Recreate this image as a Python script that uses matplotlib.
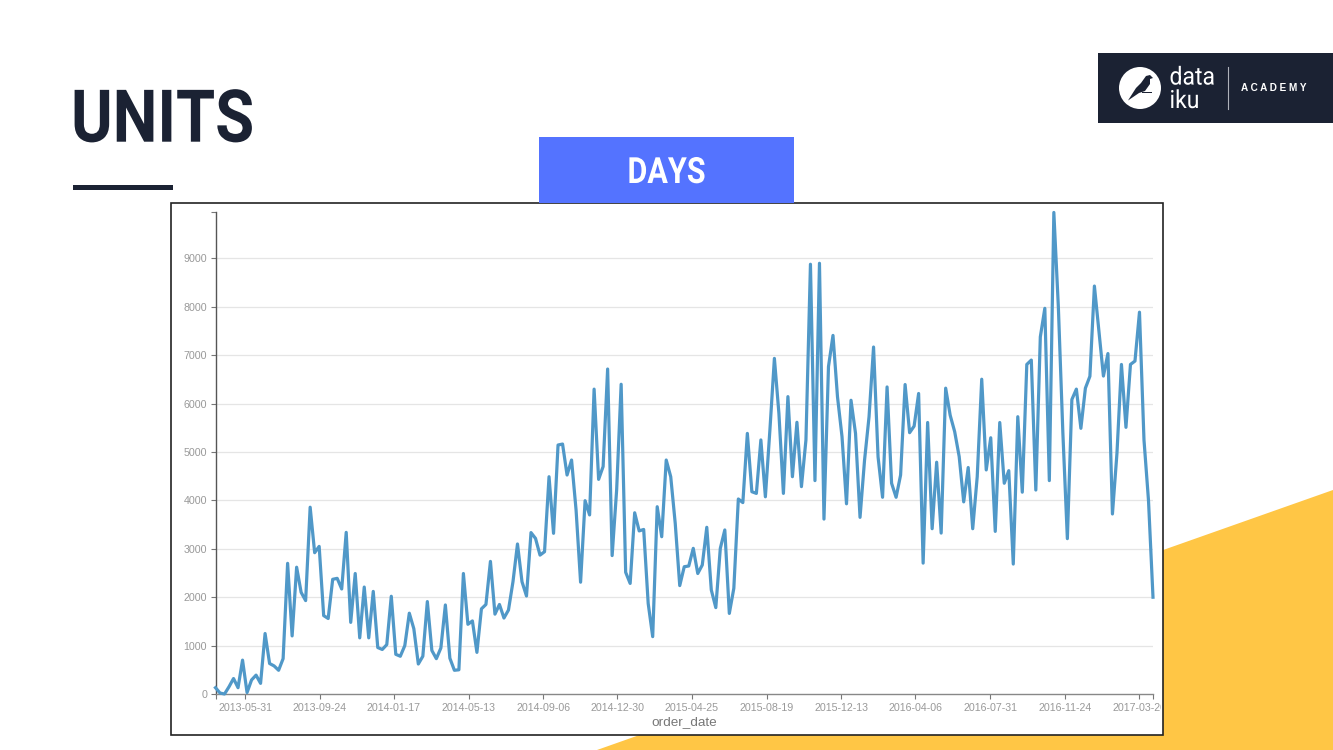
import matplotlib
matplotlib.use('Agg')
import matplotlib.pyplot as plt
import matplotlib.dates as mdates
from matplotlib.patches import Rectangle, Polygon, Circle
from matplotlib.patheffects import AbstractPathEffect
from matplotlib.transforms import Affine2D
import pandas as pd

# weekly units
units = [130, 20, 0, 150, 320, 130, 700, 30, 290, 390,
         220, 1250, 630, 580, 490, 730, 2700, 1200, 2620, 2100,
         1930, 3860, 2920, 3050, 1620, 1560, 2370, 2390, 2170, 3340,
         1480, 2490, 1160, 2210, 1160, 2120, 960, 920, 1020, 2020,
         820, 780, 1000, 1670, 1350, 620, 780, 1910, 900, 730,
         950, 1840, 740, 490, 500, 2490, 1440, 1510, 860, 1760,
         1850, 2740, 1650, 1850, 1570, 1735, 2320, 3100, 2320, 2025,
         3335, 3215, 2870, 2940, 4490, 3320, 5145, 5165, 4525, 4835,
         3800, 2310, 3995, 3700, 6300, 4435, 4700, 6715, 2860, 4215,
         6400, 2515, 2285, 3745, 3370, 3400, 1870, 1185, 3870, 3250,
         4835, 4490, 3525, 2240, 2630, 2645, 3010, 2490, 2665, 3445,
         2150, 1785, 3010, 3390, 1665, 2185, 4030, 3955, 5385, 4180,
         4145, 5250, 4075, 5450, 6935, 5800, 4145, 6145, 4490, 5615,
         4285, 5250, 8880, 4410, 8900, 3615, 6765, 7410, 6140, 5320,
         3930, 6070, 5385, 3650, 4830, 5730, 7170, 4900, 4065, 6345,
         4355, 4065, 4525, 6395, 5400, 5535, 6210, 2705, 5610, 3415,
         4790, 3325, 6320, 5760, 5420, 4905, 3970, 4680, 3415, 4490,
         6505, 4630, 5295, 3360, 5610, 4355, 4615, 2685, 5730, 4170,
         6810, 6900, 4215, 7380, 7970, 4410, 9950, 8000, 5400, 3210,
         6085, 6300, 5490, 6320, 6565, 8430, 7500, 6570, 7035, 3720,
         4970, 6810, 5510, 6810, 6880, 7890, 5250, 4000, 2000]
order_date = pd.date_range('2013-04-15', periods=len(units), freq='7D')

date_ticks = ['2013-05-31', '2013-09-24', '2014-01-17', '2014-05-13', '2014-09-06',
              '2014-12-30', '2015-04-25', '2015-08-19', '2015-12-13', '2016-04-06',
              '2016-07-31', '2016-11-24', '2017-03-20']
y_ticks = [0, 1000, 2000, 3000, 4000, 5000, 6000, 7000, 8000, 9000]
y_max = 9960

NAVY = '#1b2233'


# no condensed font here, so squeeze the real text sideways around x0 (pixels)
class Squeeze(AbstractPathEffect):
    def __init__(self, x0, sx):
        super().__init__()
        self.x0 = x0
        self.sx = sx

    def draw_path(self, renderer, gc, tpath, affine, rgbFace=None):
        squeeze = Affine2D().translate(-self.x0, 0).scale(self.sx, 1).translate(self.x0, 0)
        renderer.draw_path(gc, tpath, affine + squeeze, rgbFace)


fig = plt.figure(figsize=(13.33, 7.5), dpi=100, facecolor='white')

# slide background drawn in pixel coordinates
bg = fig.add_axes([0, 0, 1, 1])
bg.set_xlim(0, 1333)
bg.set_ylim(750, 0)
bg.axis('off')

bg.add_patch(Polygon([(597, 750), (1333, 490), (1333, 750)], color='#ffc645', lw=0))
panel = Rectangle((170.5, 202.5), 992, 532.5, facecolor='white', edgecolor='#222222', lw=1.2)
bg.add_patch(panel)
bg.add_patch(Rectangle((539, 137), 254.5, 66, color='#5473ff', lw=0, zorder=5))
bg.text(666.5, 183, 'DAYS', color='white', fontsize=26, fontweight='bold', family='Roboto',
        ha='center', va='baseline', zorder=6, path_effects=[Squeeze(666.5, 0.846)])

bg.text(71, 141.7, 'UNITS', color=NAVY, fontsize=52.5, fontweight='bold', family='Roboto',
        ha='left', va='baseline', path_effects=[Squeeze(71, 0.869)])
bg.add_patch(Rectangle((73, 185), 99.5, 5.2, color=NAVY, lw=0))

# logo
bg.add_patch(Rectangle((1098, 53), 235, 70, color=NAVY, lw=0))
bg.add_patch(Circle((1140, 88), 21, color='white', lw=0))
bg.add_patch(Polygon([(1146, 76), (1150, 75), (1153, 78), (1150, 79), (1150, 84), (1145, 91),
                      (1139, 93), (1128, 100.5), (1136, 88), (1141, 83)], color=NAVY, lw=0))
bg.add_patch(Rectangle((1142, 91.5), 10, 1.5, color=NAVY, lw=0))
bg.text(1169.5, 108, 'data\niku', color='white', fontsize=18, family='Roboto', ha='left', va='baseline',
        linespacing=0.97, path_effects=[Squeeze(1169.5, 0.92)])
bg.plot([1227.5, 1227.5], [67, 109], color='#aeb2ba', lw=0.8)
bg.text(1274, 88, 'A C A D E M Y', color='white', fontsize=7.2, fontweight='bold',
        family='Liberation Sans', ha='center', va='center')

# the chart itself
ax = fig.add_axes([215.5 / 1333, (750 - 694) / 750, (1153 - 215.5) / 1333, (694 - 212) / 750])
ax.patch.set_alpha(0)
ax.set_xlim(order_date[0], order_date[-1])
ax.set_ylim(0, y_max)

ax.hlines(y_ticks[1:], order_date[0], order_date[-1], color='#e5e5e5', lw=0.9, zorder=1)
ax.plot(order_date, units, color='#5098c8', lw=2.3, solid_joinstyle='round', clip_on=False, zorder=3)

tick_dates = [order_date[0]] + [pd.Timestamp(d) for d in date_ticks] + [order_date[-1]]
ax.set_xticks([mdates.date2num(d) for d in tick_dates])
ax.set_xticklabels([''] + date_ticks + [''], family='Liberation Sans', fontsize=7.7, color='#999999')
ax.set_yticks(y_ticks + [y_max])
ax.set_yticklabels([str(v) for v in y_ticks] + [''], family='Liberation Sans', fontsize=7.7, color='#999999')
ax.tick_params(axis='x', length=3.6, width=0.8, color='#777777', pad=3.2)
ax.tick_params(axis='y', length=3.6, width=0.8, color='#777777', pad=2.5)

for side in ['top', 'right']:
    ax.spines[side].set_visible(False)
ax.spines['left'].set_color('#555555')
ax.spines['left'].set_linewidth(1.0)
ax.spines['bottom'].set_color('#888888')
ax.spines['bottom'].set_linewidth(1.0)

# last date runs into the frame and gets cut just before it
label_clip = Rectangle((171, 203), 990, 532, transform=bg.transData)
for label in ax.get_xticklabels():
    label.set_clip_on(True)
    label.set_clip_path(label_clip)

bg.text(684, 722, 'order_date', color='#777777', fontsize=9.7, family='Liberation Sans',
        ha='center', va='center')

fig.savefig('out.png', dpi=100)
